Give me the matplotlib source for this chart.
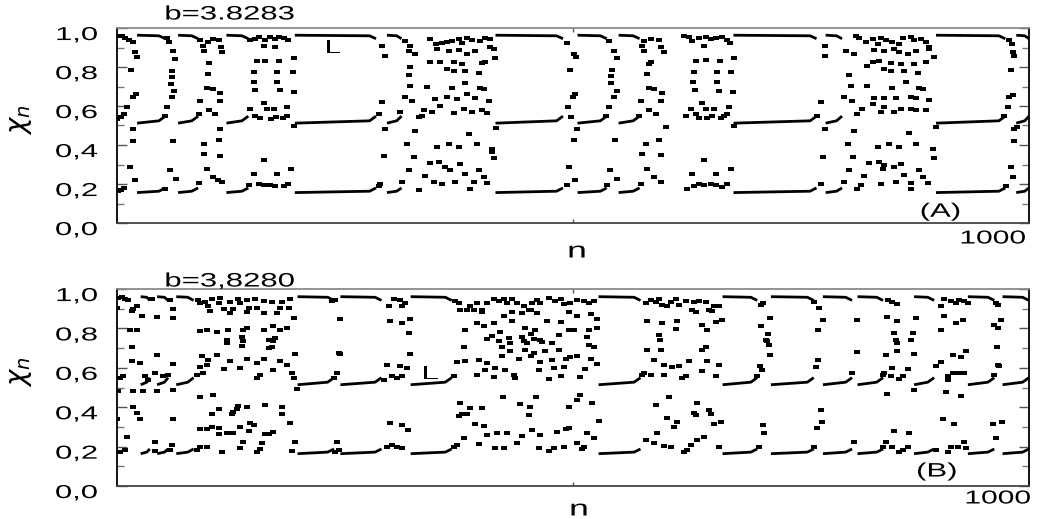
import matplotlib
matplotlib.use("Agg")
import matplotlib.pyplot as plt
import matplotlib.transforms as mtrans
from matplotlib.path import Path
from matplotlib.patheffects import AbstractPathEffect
from matplotlib.ticker import MultipleLocator, FuncFormatter

plt.rcParams["font.family"] = ["Liberation Sans", "DejaVu Sans"]

# ---- panel (A), b=3.8283 ----
# laminar phases (n start, n end); branch level (lo, mid, hi) at start, just before end, at end
a_seg = [(22, 53), (67, 89), (120, 144), (195, 284), (296, 312), (415, 489),
         (505, 537), (550, 573), (676, 767), (777, 795), (898, 974), (986, 1000)]
a_lev = [0.156, 0.512, 0.963]
a_lev_late = [0.163, 0.524, 0.960]
a_lev_end = [0.180, 0.548, 0.945]

# scattered iterates (bursts and branch ends), read as (n, x_n)
a_pts1 = [(1.5, .961), (5.2, .957), (8.8, .949), (13.6, .939), (18.0, .927), (19.8, .875),
          (21.6, .853), (15.0, .785), (20.9, .662), (18.0, .645), (11.4, .597), (7.7, .560),
          (4.1, .543), (0.4, .531), (17.2, .483), (17.2, .423), (14.3, .287), (19.8, .218),
          (7.7, .181), (4.1, .171), (0.8, .164),
          (54.6, .947), (57.1, .927), (61.9, .884), (63.7, .841), (60.0, .782), (60.0, .751),
          (58.9, .713), (62.6, .679), (60.0, .645), (55.3, .594), (52.7, .551), (61.9, .423),
          (58.2, .270), (64.4, .227), (52.7, .176),
          (91.1, .939), (94.1, .910), (95.5, .884), (100.3, .927), (105.8, .944), (111.3, .939),
          (113.8, .901), (114.9, .875), (101.4, .819), (100.3, .765), (98.5, .693), (105.8, .688),
          (113.1, .666), (91.1, .628), (101.4, .580), (107.6, .560), (113.1, .628), (90.4, .560),
          (113.1, .483), (95.5, .403), (95.5, .355), (111.3, .427), (112.4, .346), (98.5, .278),
          (105.8, .235), (110.2, .218), (114.9, .210), (90.4, .205)]
a_pts2 = [(146.0, .939), (151.5, .944), (155.2, .952), (162.5, .939), (168.0, .952), (173.5, .944),
          (177.1, .952), (182.6, .949), (187.0, .939), (160.7, .910), (173.5, .904),
          (153.3, .829), (162.5, .833), (177.1, .833), (193.6, .846), (150.0, .773), (175.3, .773),
          (192.9, .776), (150.0, .723), (175.3, .723), (151.8, .683), (178.2, .683), (193.6, .671),
          (160.7, .614), (186.3, .597), (146.0, .585), (164.3, .585), (172.4, .585), (151.5, .551),
          (156.3, .539), (168.7, .534), (174.6, .543), (181.9, .539), (186.3, .551), (193.6, .495),
          (161.4, .321), (150.0, .253), (175.3, .253), (190.7, .278), (144.5, .193), (155.2, .201),
          (160.7, .193), (168.0, .193), (173.5, .188), (183.3, .191), (187.0, .198),
          (290.5, .910), (293.4, .855), (290.5, .619), (286.9, .560), (293.4, .483), (292.3, .346),
          (288.7, .200), (286.9, .192)]
a_pts3 = [(316.1, .932), (321.6, .910), (343.6, .944), (350.2, .918), (356.4, .922), (361.9, .927),
          (367.4, .935), (374.7, .944), (378.3, .922), (383.8, .949), (389.3, .939), (398.5, .935),
          (404.0, .949), (409.4, .944), (319.8, .884), (327.1, .867), (350.9, .892), (363.7, .884),
          (374.7, .887), (383.8, .867), (393.0, .884), (409.4, .901), (413.1, .892), (343.6, .824),
          (354.5, .824), (369.2, .824), (378.3, .816), (400.3, .819), (404.0, .824), (414.9, .846),
          (321.6, .799), (361.9, .790), (369.2, .778), (382.0, .782), (396.6, .768), (319.8, .758),
          (321.6, .705), (339.9, .700), (367.4, .693), (382.0, .717), (398.5, .693), (402.1, .688),
          (316.1, .645), (323.4, .628), (349.1, .637), (361.9, .645), (372.8, .637), (383.8, .659),
          (393.0, .642), (407.6, .628), (310.6, .568), (336.3, .580), (345.4, .568), (354.5, .601),
          (369.2, .563), (380.2, .585), (389.3, .568), (400.3, .580), (405.8, .563), (330.8, .543),
          (334.4, .551), (327.1, .474), (415.7, .488), (385.6, .457), (318.0, .406), (350.9, .389),
          (363.7, .403), (374.7, .392), (394.8, .406), (411.3, .381), (411.3, .363), (325.3, .338),
          (413.1, .334), (343.6, .309), (352.7, .312), (376.5, .304), (319.8, .270), (360.0, .287),
          (365.5, .273), (396.6, .273), (338.1, .241), (382.0, .249), (402.1, .235), (312.5, .210),
          (347.2, .210), (356.4, .198), (371.0, .210), (391.1, .210), (405.8, .205), (387.5, .176),
          (330.8, .167)]
a_pts4 = [(493.6, .922), (500.9, .867), (503.8, .853), (497.2, .785), (502.7, .662), (500.2, .645),
          (494.3, .597), (498.0, .543), (504.6, .483), (500.9, .427), (495.4, .287), (502.7, .218),
          (493.6, .193),
          (539.3, .935), (544.8, .884), (548.5, .846), (543.0, .785), (541.9, .756), (541.2, .717),
          (547.7, .679), (544.8, .645), (539.3, .594), (535.7, .551), (546.6, .427), (540.4, .270),
          (547.7, .227), (536.8, .193),
          (575.9, .910), (577.8, .884), (583.2, .816), (585.1, .824), (581.4, .765), (583.2, .693),
          (588.7, .688), (597.9, .666), (574.1, .628), (583.2, .580), (590.6, .560), (596.0, .628),
          (579.6, .406), (575.9, .355), (594.2, .427), (596.0, .348), (581.4, .278), (588.7, .235),
          (596.0, .210), (601.5, .491), (577.8, .935), (585.1, .944), (594.2, .939), (596.0, .901),
          (599.7, .875), (572.3, .551), (574.1, .201)]
a_pts5 = [(621.7, .961), (627.1, .952), (630.8, .935), (638.1, .949), (645.4, .952), (650.9, .944),
          (656.4, .949), (663.7, .952), (669.2, .939), (672.2, .922), (643.6, .910), (634.5, .829),
          (645.4, .836), (661.2, .833), (676.5, .846), (632.6, .773), (658.2, .773), (673.6, .776),
          (631.9, .725), (658.2, .723), (633.4, .683), (660.1, .679), (675.8, .671), (641.8, .614),
          (671.1, .597), (629.0, .585), (645.4, .585), (654.6, .585), (623.5, .551), (634.5, .560),
          (638.1, .539), (647.3, .539), (652.8, .551), (661.9, .539), (665.6, .551), (669.2, .560),
          (643.6, .321), (630.8, .253), (656.4, .253), (672.9, .278), (625.3, .176), (632.6, .188),
          (638.1, .201), (643.6, .193), (650.9, .201), (656.4, .193), (663.7, .186), (669.2, .201),
          (676.5, .495)]
a_pts6 = [(776.1, .910), (776.1, .858), (772.4, .619), (768.0, .551), (776.1, .483), (774.6, .338),
          (771.7, .201), (810.1, .961), (813.8, .949), (821.1, .927), (828.4, .944), (833.9, .918),
          (837.5, .949), (843.0, .939), (850.3, .927), (857.7, .918), (861.3, .949), (870.5, .952),
          (874.1, .939), (881.4, .944), (886.9, .927), (890.6, .901), (799.1, .884), (808.3, .867),
          (830.2, .887), (841.2, .884), (852.2, .892), (857.7, .875), (866.8, .867), (876.0, .884),
          (890.6, .892), (896.1, .853), (822.9, .807), (828.4, .824), (835.7, .829), (848.5, .819),
          (859.5, .816), (874.1, .816), (886.9, .824), (802.8, .761), (841.2, .790), (848.5, .778),
          (863.2, .782), (877.8, .768), (804.6, .705), (822.9, .705), (850.3, .693), (865.0, .725),
          (879.6, .693), (883.3, .688), (797.3, .645), (806.4, .628), (830.2, .642), (841.2, .642),
          (854.0, .642), (870.5, .648), (876.0, .642), (890.6, .631), (817.4, .585), (828.4, .611),
          (837.5, .568), (841.2, .597), (852.2, .568), (859.5, .585), (870.5, .585), (876.0, .577),
          (886.9, .577), (811.9, .560), (808.3, .471), (897.9, .491), (868.6, .461), (801.0, .406),
          (833.9, .392), (846.7, .403), (857.7, .392), (876.0, .403), (894.3, .381), (807.5, .338),
          (896.1, .334), (824.7, .309), (835.7, .312), (841.2, .295), (859.5, .304), (852.2, .287),
          (802.8, .270), (839.4, .278), (879.6, .273), (819.2, .239), (863.2, .244), (883.3, .235),
          (797.3, .210), (815.6, .193), (837.5, .201), (854.0, .210), (870.5, .205), (888.8, .205),
          (811.9, .176), (870.5, .176),
          (978.4, .939), (981.0, .918), (982.1, .875), (983.2, .858), (980.2, .785), (982.1, .654),
          (978.4, .645), (977.3, .597), (973.0, .551), (983.2, .483), (983.2, .423), (980.2, .287),
          (982.1, .235), (974.8, .192), (986.5, .491)]

# ---- panel (B), b=3,8280 ----
b_seg = [(26, 36), (44, 56), (65, 84), (198, 238), (245, 290), (322, 367), (528, 574),
         (664, 702), (717, 764), (774, 806), (812, 840), (874, 896), (933, 962), (971, 1000)]
b_lev = [0.164, 0.514, 0.961]
b_lev_late = [0.172, 0.527, 0.958]
b_lev_end = [0.188, 0.550, 0.942]

b_pts1 = [(1.5, .954), (5.2, .959), (8.8, .949), (12.5, .942), (38.1, .949), (58.2, .946),
          (89.3, .946), (96.6, .932), (104.0, .949), (113.1, .954), (124.1, .932), (133.2, .949),
          (142.4, .942), (151.5, .949), (160.7, .937), (169.8, .932), (180.8, .932), (189.9, .949),
          (0.0, .903), (18.0, .898), (21.6, .912), (16.1, .886), (27.1, .861), (43.6, .857),
          (61.9, .898), (61.9, .853), (91.1, .929), (100.3, .912), (102.1, .886), (111.3, .929),
          (116.8, .898), (124.1, .878), (127.7, .898), (135.0, .929), (142.4, .881), (144.2, .903),
          (153.3, .903), (160.7, .878), (175.3, .878), (178.9, .903), (188.1, .903), (193.6, .853),
          (244.8, .849), (14.3, .793), (21.6, .793), (91.1, .785), (98.5, .793), (109.4, .780),
          (122.2, .793), (138.7, .790), (142.4, .802), (160.7, .793), (171.6, .810), (178.9, .793),
          (186.3, .802), (16.1, .708), (120.4, .742), (120.4, .725), (136.9, .755), (138.7, .734),
          (136.9, .712), (167.2, .742), (171.6, .734), (169.8, .708), (166.2, .700), (173.5, .751),
          (43.6, .666), (92.9, .658), (100.3, .641), (109.4, .666), (195.4, .671), (244.8, .671),
          (16.1, .632), (25.3, .624), (61.9, .621), (91.1, .605), (98.5, .612), (116.8, .595),
          (124.1, .632), (135.0, .598), (142.4, .643), (153.3, .624), (160.7, .645), (171.6, .590),
          (178.9, .632), (186.3, .612), (3.3, .547), (7.0, .556), (30.8, .556), (41.7, .573),
          (34.4, .539), (56.4, .564), (50.9, .556), (87.5, .564), (94.8, .573), (153.3, .547),
          (157.0, .564), (191.8, .573), (193.6, .547), (1.5, .480), (18.0, .480), (28.9, .480),
          (43.6, .480), (61.9, .485), (197.3, .490), (91.1, .450), (105.8, .463), (111.3, .390),
          (104.0, .366), (127.7, .378), (131.4, .390), (125.9, .366), (133.2, .407), (142.4, .403),
          (162.5, .412), (180.8, .403), (180.8, .366), (18.0, .403), (21.6, .369), (0.0, .339),
          (25.3, .339), (61.9, .339), (104.0, .302), (111.3, .293), (135.0, .302), (146.0, .322),
          (149.7, .310), (189.9, .322), (10.6, .247), (91.1, .288), (98.5, .288), (111.3, .264),
          (120.4, .271), (127.7, .268), (144.2, .281), (162.5, .264), (166.2, .264), (171.6, .276),
          (41.7, .225), (60.0, .208), (138.7, .225), (158.8, .217), (195.4, .225), (3.3, .175),
          (8.8, .183), (41.7, .180), (58.2, .183), (87.5, .183), (91.1, .197), (98.5, .197),
          (114.9, .175), (135.0, .192), (153.3, .175), (157.0, .186), (191.8, .180), (239.3, .175),
          (243.0, .183)]
b_pts2 = [(235.6, .937), (239.3, .946), (243.0, .675), (241.1, .573), (237.5, .547), (241.1, .225),
          (292.3, .539), (297.8, .912), (303.3, .949), (310.6, .946), (312.5, .912), (316.1, .929),
          (299.7, .836), (312.5, .827), (321.6, .847), (319.8, .776), (320.9, .671), (296.0, .615),
          (310.6, .607), (318.0, .598), (301.5, .556), (307.0, .547), (312.5, .559), (299.7, .319),
          (312.5, .310), (318.7, .285), (296.0, .200), (301.5, .208), (307.0, .200), (312.5, .192),
          (371.0, .937), (374.7, .929), (369.2, .556), (369.2, .200)]
b_pts3 = [(376.5, .895), (383.8, .895), (387.5, .912), (391.1, .895), (394.8, .929), (400.3, .895),
          (405.8, .929), (413.1, .949), (418.6, .937), (424.1, .949), (427.7, .929), (433.2, .949),
          (438.7, .929), (446.0, .912), (451.5, .895), (455.2, .929), (460.7, .946), (464.3, .929),
          (473.5, .954), (480.8, .937), (486.3, .949), (489.9, .925), (497.2, .929), (504.6, .946),
          (511.9, .937), (517.4, .929), (522.9, .937), (424.1, .864), (433.2, .881), (444.2, .878),
          (453.4, .891), (460.7, .878), (471.6, .836), (495.4, .881), (504.6, .861), (519.2, .874),
          (526.5, .847), (400.3, .881), (382.0, .793), (394.8, .827), (402.1, .813), (413.1, .827),
          (433.2, .836), (447.9, .802), (458.8, .790), (486.3, .830), (495.4, .790), (500.9, .790),
          (517.4, .790), (526.5, .802), (405.8, .746), (411.3, .759), (420.4, .780), (418.6, .734),
          (429.6, .751), (431.4, .725), (444.2, .756), (446.0, .734), (453.4, .773), (449.7, .725),
          (457.0, .746), (464.3, .742), (466.1, .729), (477.1, .725), (484.4, .768), (515.5, .756),
          (517.4, .717), (380.2, .705), (422.2, .708), (431.4, .683), (447.9, .692), (457.0, .675),
          (469.8, .683), (484.4, .688), (522.9, .705), (372.8, .627), (382.0, .632), (396.6, .641),
          (405.8, .624), (422.2, .658), (440.5, .644), (453.4, .658), (464.3, .627), (477.1, .641),
          (491.8, .644), (497.2, .654), (504.6, .661), (519.2, .647), (526.5, .620), (394.8, .564),
          (404.0, .590), (414.9, .598), (425.9, .590), (435.0, .564), (413.1, .552), (436.9, .549),
          (462.5, .590), (473.5, .542), (479.0, .598), (486.3, .556), (489.9, .603), (508.2, .552),
          (513.7, .593), (376.5, .420), (387.5, .395), (383.8, .366), (400.3, .395), (423.3, .451),
          (442.4, .417), (452.6, .403), (459.9, .451), (495.4, .400), (504.6, .437), (508.2, .463),
          (521.0, .420), (374.7, .353), (378.3, .366), (451.5, .361), (393.0, .313), (402.1, .307),
          (455.2, .285), (491.8, .288), (495.4, .293), (528.4, .332), (380.2, .242), (405.8, .259),
          (416.8, .268), (427.7, .268), (444.2, .256), (464.3, .259), (482.6, .276), (515.5, .271),
          (522.9, .242), (396.6, .214), (414.9, .192), (424.1, .192), (438.7, .217), (462.5, .192),
          (473.5, .180), (479.0, .192), (489.9, .197), (504.6, .220), (510.0, .186), (511.9, .200),
          (372.8, .208)]
b_pts4 = [(579.6, .929), (585.1, .942), (590.6, .932), (594.2, .949), (597.9, .920), (603.4, .912),
          (607.0, .932), (612.5, .949), (616.2, .920), (581.4, .836), (597.9, .827), (614.3, .836),
          (594.2, .768), (595.3, .742), (612.5, .796), (581.4, .688), (596.0, .692), (588.7, .641),
          (599.7, .615), (608.8, .603), (616.2, .610), (575.9, .564), (577.8, .576), (585.1, .564),
          (599.7, .564), (605.2, .451), (590.6, .412), (603.4, .344), (614.3, .327), (610.7, .302),
          (592.4, .268), (579.6, .234), (588.7, .217), (599.7, .203), (607.0, .197),
          (623.5, .937), (632.6, .932), (638.1, .937), (645.4, .932), (654.6, .912), (660.1, .912),
          (630.8, .895), (634.5, .881), (649.1, .895), (652.8, .886), (641.8, .819), (647.3, .793),
          (656.4, .832), (663.7, .844), (645.4, .708), (641.8, .692), (627.1, .632), (647.3, .632),
          (660.1, .615), (641.8, .586), (656.4, .559), (623.5, .556), (619.8, .547), (636.3, .420),
          (632.6, .373), (634.5, .361), (649.1, .386), (650.9, .366), (654.6, .314), (661.9, .327),
          (643.6, .247), (636.3, .234), (625.3, .183), (621.7, .175), (629.0, .208), (660.1, .200)]
b_pts5 = [(708.7, .929), (706.5, .920), (716.1, .853), (705.8, .810), (713.9, .773), (711.3, .742),
          (712.4, .734), (715.0, .717), (716.1, .666), (705.1, .607), (707.6, .590), (708.7, .310),
          (709.5, .268), (704.0, .200), (702.2, .556), (764.4, .932), (769.9, .903), (768.8, .793),
          (774.6, .841), (768.8, .641), (766.2, .603), (771.7, .386), (773.5, .327), (767.3, .293),
          (764.4, .200), (806.4, .573), (808.3, .225),
          (844.9, .946), (850.3, .932), (855.8, .925), (811.2, .841), (844.1, .857), (855.8, .836),
          (852.2, .776), (854.0, .742), (855.8, .725), (870.5, .742), (872.3, .776), (843.0, .666),
          (855.8, .683), (874.1, .671), (811.2, .678), (839.4, .564), (841.2, .573), (848.5, .556),
          (850.3, .598), (857.7, .542), (861.3, .556), (866.8, .593), (874.1, .488), (844.1, .469),
          (852.2, .281), (868.6, .268), (839.4, .200), (843.0, .225), (850.3, .200), (857.7, .175),
          (861.3, .183), (866.8, .200), (876.0, .853)]
b_pts6 = [(903.4, .912), (907.1, .949), (914.4, .937), (919.9, .929), (923.5, .946), (929.0, .937),
          (932.7, .929), (907.1, .861), (919.9, .825), (927.2, .844), (903.4, .793), (916.2, .666),
          (925.4, .654), (930.8, .683), (897.9, .610), (903.4, .627), (910.7, .556), (916.2, .573),
          (921.7, .573), (929.0, .573), (910.7, .539), (908.9, .475), (925.4, .458), (905.2, .339),
          (918.0, .315), (897.9, .185), (910.7, .175), (914.4, .200), (921.7, .200), (929.0, .225),
          (930.8, .192), (963.8, .929), (966.3, .920), (969.3, .844), (962.0, .819), (966.3, .802),
          (964.9, .705), (967.4, .610), (962.0, .564), (965.6, .615), (960.1, .315), (970.0, .327),
          (963.8, .242)]

a_pts = a_pts1 + a_pts2 + a_pts3 + a_pts4 + a_pts5 + a_pts6
b_pts = b_pts1 + b_pts2 + b_pts3 + b_pts4 + b_pts5 + b_pts6


class Wide(AbstractPathEffect):
    """Stretch glyphs sideways about an anchor (the source figure is stretched)."""

    def __init__(self, sx=1.6, align=0.5):
        super().__init__()
        self.sx, self.align = sx, align

    def draw_path(self, renderer, gc, tpath, affine, rgbFace=None):
        v = tpath.vertices
        if tpath.codes is not None:
            v = v[tpath.codes != Path.CLOSEPOLY]
        x0, x1 = v[:, 0].min(), v[:, 0].max()
        xa = x0 + self.align * (x1 - x0)
        pre = mtrans.Affine2D().translate(-xa, 0).scale(self.sx, 1).translate(xa, 0)
        renderer.draw_path(gc, tpath, pre + affine, rgbFace)


# wide little dash, the iterates look stretched sideways in the original
dash = Path([(-1, -0.7), (1, -0.7), (1, 0.7), (-1, 0.7), (-1, -0.7)],
            [Path.MOVETO, Path.LINETO, Path.LINETO, Path.LINETO, Path.CLOSEPOLY])

W, H = 1039, 519
fig = plt.figure(figsize=(W / 100, H / 100), dpi=100)
ax_a = fig.add_axes([117 / W, 1 - 223 / H, 912 / W, 195 / H])
ax_b = fig.add_axes([117 / W, 1 - 486 / H, 912 / W, 197 / H])

comma = FuncFormatter(lambda v, p: f"{v:.1f}".replace(".", ","))
down = mtrans.ScaledTranslation(0, -4 / 72, fig.dpi_scale_trans)


def panel(ax, seg, lev, lev_late, lev_end, pts):
    for n0, n1 in seg:
        late = n1 - min(7, (n1 - n0) / 3)
        for y0, y1, y2 in zip(lev, lev_late, lev_end):
            ax.plot([n0, late, n1], [y0, y1, y2], color="black", lw=2.0,
                    solid_capstyle="butt", solid_joinstyle="round")
    ns = [p[0] for p in pts]
    xs = [p[1] for p in pts]
    ax.plot(ns, xs, ls="none", marker=dash, ms=3.8, color="black", mew=0)
    ax.set_xlim(0, 1000)
    ax.set_ylim(0, 1)
    ax.set_xticks([500])
    ax.set_xticklabels([])
    ax.yaxis.set_major_locator(MultipleLocator(0.2))
    ax.yaxis.set_minor_locator(MultipleLocator(0.1))
    ax.yaxis.set_major_formatter(comma)
    ax.tick_params(axis="x", direction="in", top=True, length=3, width=1, color="#555")
    ax.tick_params(axis="y", which="major", direction="in", right=True, length=7, width=1,
                   color="#555", labelsize=13.5, pad=14)
    ax.tick_params(axis="y", which="minor", direction="in", right=True, length=5, width=1,
                   color="#777")
    for lab in ax.get_yticklabels():
        lab.set_transform(lab.get_transform() + down)
        lab.set_path_effects([Wide(1.65, 1.0)])
    ax.spines["left"].set_color("black")
    ax.spines["right"].set_color("black")
    ax.spines["top"].set_color("#8a8a8a")
    ax.spines["bottom"].set_color("#444444")
    for s in ax.spines.values():
        s.set_linewidth(1.3)


panel(ax_a, a_seg, a_lev, a_lev_late, a_lev_end, a_pts)
panel(ax_b, b_seg, b_lev, b_lev_late, b_lev_end, b_pts)

wide = [Wide(1.6, 0.5)]
ax_a.text(237, 0.894, "L", fontsize=14, ha="center", va="center", path_effects=wide)
ax_b.text(344, 0.564, "L", fontsize=14, ha="center", va="center", path_effects=wide)
ax_a.text(903, 0.055, "(A)", fontsize=14, ha="center", va="center", path_effects=wide)
ax_b.text(899, 0.071, "(B)", fontsize=14, ha="center", va="center", path_effects=wide)

fig.text(230 / W, 1 - 15 / H, "b=3.8283", fontsize=14, ha="center", va="center", path_effects=wide)
fig.text(230 / W, 1 - 282 / H, "b=3,8280", fontsize=14, ha="center", va="center", path_effects=wide)
fig.text(577 / W, 1 - 252 / H, "n", fontsize=16, ha="center", va="center", path_effects=wide)
fig.text(579 / W, 1 - 510 / H, "n", fontsize=16, ha="center", va="center", path_effects=wide)
fig.text(993 / W, 1 - 239 / H, "1000", fontsize=13.5, ha="center", va="center", path_effects=wide)
fig.text(998 / W, 1 - 499 / H, "1000", fontsize=13.5, ha="center", va="center", path_effects=wide)
fig.text(21 / W, 1 - 120 / H, r"$\chi_n$", fontsize=20, rotation=90, ha="center", va="center")
fig.text(21 / W, 1 - 372 / H, r"$\chi_n$", fontsize=20, rotation=90, ha="center", va="center")

fig.savefig("out.png", dpi=100)
